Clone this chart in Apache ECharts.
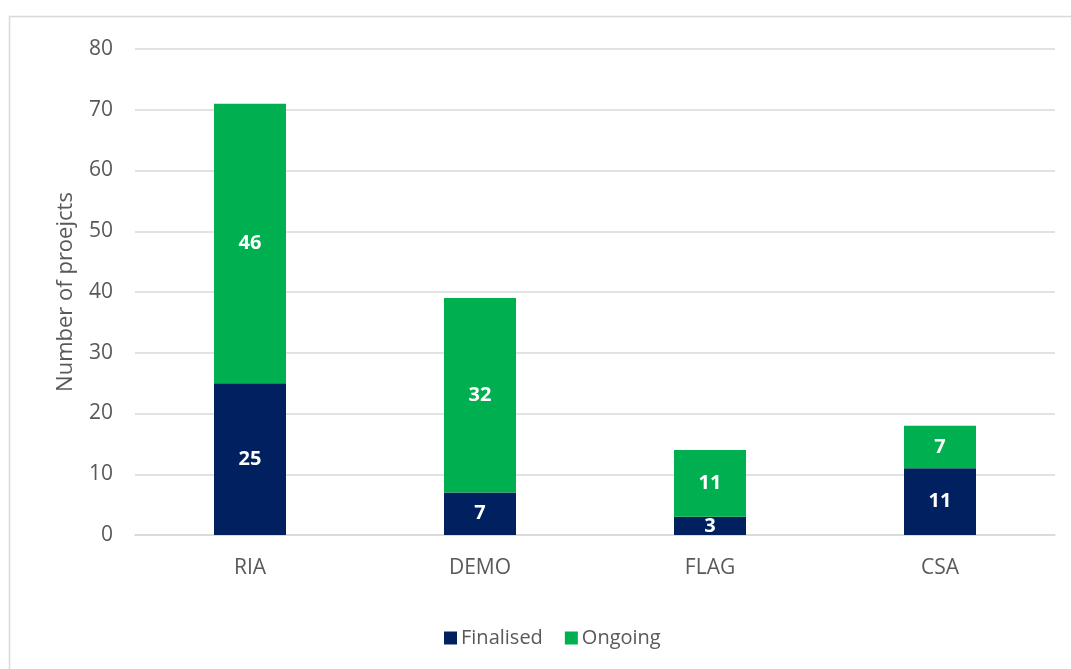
<!DOCTYPE html>
<html>
<head>
<meta charset="utf-8">
<script src="https://cdn.jsdelivr.net/npm/echarts@6/dist/echarts.min.js"></script>
<style>
  html, body { margin: 0; padding: 0; background: #fff; }
  #chart { width: 1071px; height: 669px; }
</style>
</head>
<body>
<div id="chart"></div>
<script>
// Project counts per funding instrument
const categories = ['RIA', 'DEMO', 'FLAG', 'CSA'];
const finalised = [25, 7, 3, 11];
const ongoing = [46, 32, 11, 7];
const yTicks = { min: 0, max: 80, interval: 10 };

const FONT = '"Open Sans", "Liberation Sans", sans-serif';
const TEXT = '#595959';
const GRID = '#d9d9d9';

const chart = echarts.init(document.getElementById('chart'), null, { renderer: 'canvas' });

const barLabel = {
  show: true,
  position: 'inside',
  color: '#ffffff',
  fontWeight: 'bold',
  fontFamily: FONT,
  fontSize: 20
};

chart.setOption({
  animation: false,
  backgroundColor: '#ffffff',
  graphic: [{
    type: 'rect',
    shape: { x: 9.5, y: 16.5, width: 1100, height: 700 },
    style: { fill: 'none', stroke: GRID, lineWidth: 1.5 },
    silent: true
  }],
  grid: { left: 135, right: 16, top: 49, bottom: 134 },
  legend: {
    left: 439,
    top: 623,
    itemWidth: 13,
    itemHeight: 13,
    itemGap: 22,
    icon: 'rect',
    textStyle: { color: TEXT, fontFamily: FONT, fontSize: 20, padding: [0, 0, 0, -1] },
    data: ['Finalised', 'Ongoing']
  },
  xAxis: {
    type: 'category',
    data: categories,
    axisLine: { show: true, lineStyle: { color: GRID, width: 1.5 } },
    axisTick: { show: false },
    axisLabel: { color: TEXT, fontFamily: FONT, fontSize: 21, margin: 23 }
  },
  yAxis: {
    type: 'value',
    min: yTicks.min,
    max: yTicks.max,
    interval: yTicks.interval,
    name: 'Number of proejcts',
    nameLocation: 'middle',
    nameGap: 58,
    nameTextStyle: { color: TEXT, fontFamily: FONT, fontSize: 22 },
    axisLine: { show: false },
    axisTick: { show: false },
    axisLabel: { color: TEXT, fontFamily: FONT, fontSize: 21, margin: 22 },
    splitLine: { lineStyle: { color: GRID, width: 1.5 } }
  },
  series: [
    {
      name: 'Finalised',
      type: 'bar',
      stack: 'total',
      barWidth: 72,
      data: finalised,
      itemStyle: { color: '#002060' },
      label: barLabel
    },
    {
      name: 'Ongoing',
      type: 'bar',
      stack: 'total',
      barWidth: 72,
      data: ongoing,
      itemStyle: { color: '#00B050' },
      label: barLabel
    }
  ]
});
</script>
</body>
</html>
